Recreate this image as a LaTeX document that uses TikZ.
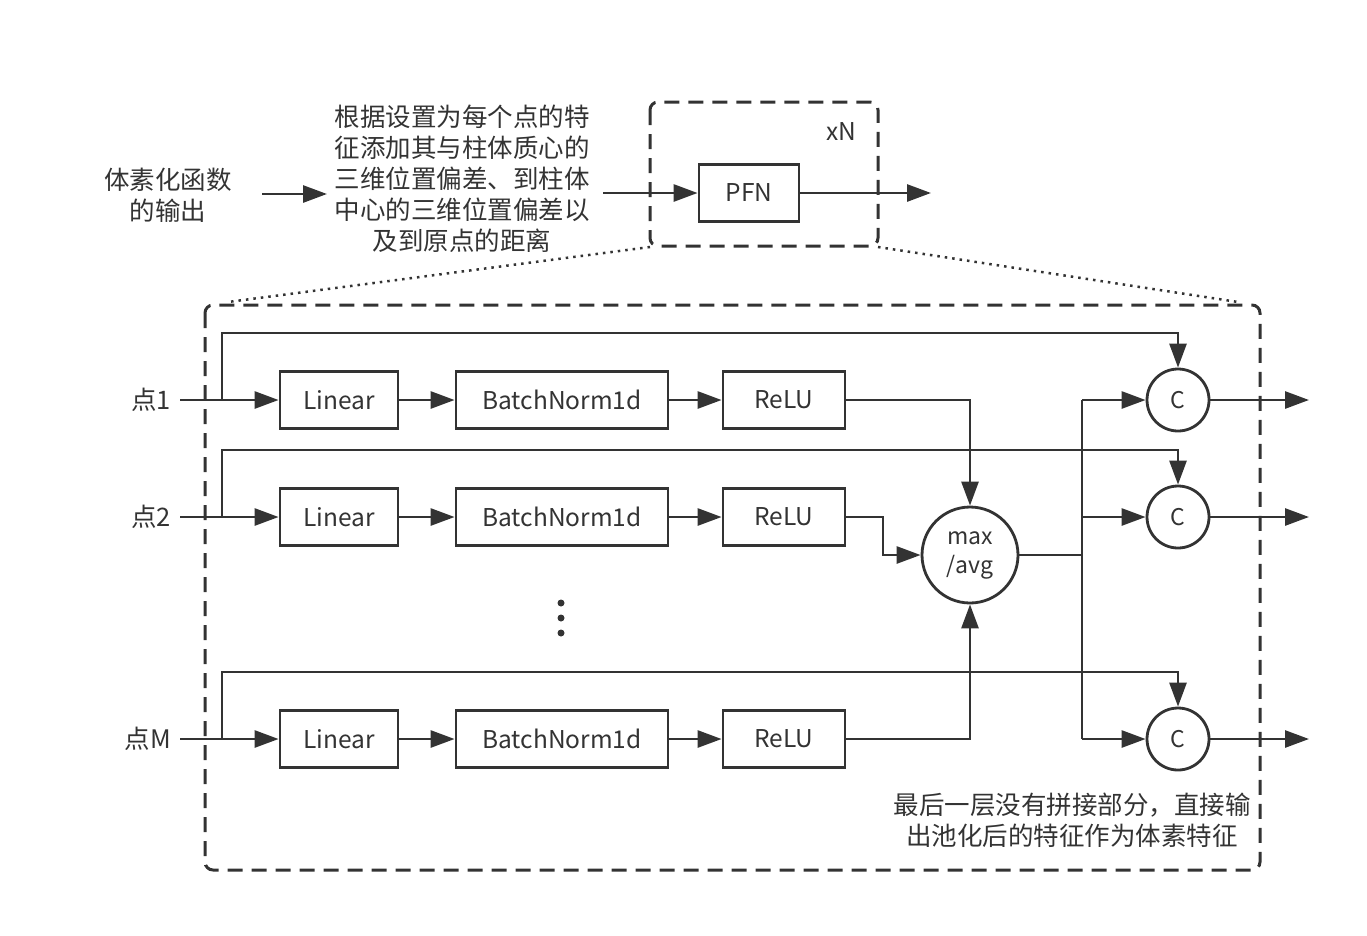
\documentclass[tikz,border=0pt]{standalone}
\usepackage{fontspec}
\setmainfont{Noto Sans CJK SC}
\usetikzlibrary{arrows.meta}
\definecolor{ink}{HTML}{333333}
\begin{document}
\begin{tikzpicture}[x=1pt,y=-1pt,
  every node/.style={text=ink,font=\fontsize{24.5}{31}\selectfont},
  cjk/.style={font=\fontsize{25.5}{31}\selectfont},
  line/.style={draw=ink,line width=2.8pt},
  arr/.style={line,-{Triangle[length=24pt,width=17pt]}},
  blk/.style={draw=ink,line width=2.8pt,minimum height=57pt,inner sep=0pt},
  circ/.style={draw=ink,line width=2.8pt,circle,inner sep=0pt},
  dashbox/.style={draw=ink,line width=3pt,dash pattern=on 15pt off 9pt,rounded corners=8pt},
  dotl/.style={draw=ink,line width=2.5pt,dash pattern=on 2.5pt off 5pt}]
\useasboundingbox (0,0) rectangle (1367,935);
% top row
\node[cjk,align=center] (in) at (168,195) {体素化函数\\的输出};
\node[cjk,align=center] (desc) at (462,179) {根据设置为每个点的特\\征添加其与柱体质心的\\三维位置偏差、到柱体\\中心的三维位置偏差以\\及到原点的距离};
\coordinate (a1s) at (262,194);
\coordinate (a1e) at (327,194);
\draw[arr] (a1s) -- (a1e);
\node[blk,minimum width=100pt] (pfn) at (749,193) {PFN};
\coordinate (a2s) at (603,193);
\draw[arr] (a2s) -- (pfn.west);
\coordinate (a3e) at (931,193);
\draw[arr] (pfn.east) -- (a3e);
\coordinate (sb1) at (650,102);
\coordinate (sb2) at (878,246);
\draw[dashbox] (sb1) rectangle (sb2);
\node (xn) at (841,132) {xN};
% big box
\coordinate (bb1) at (205,305);
\coordinate (bb2) at (1260,870);
\coordinate (dl1) at (228,302);
\coordinate (dl2) at (1238,302);
\draw[dotl] (650,247) -- (dl1);
\draw[dotl] (878,247) -- (dl2);
\draw[dashbox] (bb1) rectangle (bb2);
% rows
\foreach \r/\y/\lab/\top in {1/400/点1/333, 2/517/点2/450, 3/739/点M/672}{
  \node[cjk,anchor=east,inner sep=0pt] (p\r) at (171,\y) {\lab};
  \node[blk,minimum width=118pt] (lin\r) at (339,\y) {Linear};
  \node[blk,minimum width=212pt] (bn\r) at (562,\y) {BatchNorm1d};
  \node[blk,minimum width=122pt] (re\r) at (784,\y) {ReLU};
  \node[circ,minimum size=62pt,font=\fontsize{23}{24}\selectfont] (c\r) at (1178,\y) {C};
  \coordinate (s\r) at (180,\y);
  \coordinate (b\r) at (222,\y);
  \coordinate (t\r) at (222,\top);
  \coordinate (u\r) at (1178,\top);
  \coordinate (o\r) at (1309,\y);
  \coordinate (k\r) at (1082,\y);
  \draw[arr] (s\r) -- (lin\r.west);
  \draw[arr] (lin\r) -- (bn\r);
  \draw[arr] (bn\r) -- (re\r);
  \draw[arr] (b\r) -- (t\r) -- (u\r) -- (c\r.north);
  \draw[arr] (c\r.east) -- (o\r);
}
% pooling
\node[circ,minimum size=96pt,align=center,font=\fontsize{23}{29}\selectfont] (mx) at (970,555) {max\\/avg};
\draw[arr] (re1.east) -| (mx.north);
\draw[arr] (re3.east) -| (mx.south);
\coordinate (r2a) at (883,517);
\coordinate (r2b) at (883,555);
\draw[arr] (re2.east) -- (r2a) -- (r2b) -- (mx.west);
\coordinate (jn) at (1082,555);
\draw[line] (mx.east) -- (jn);
\draw[line] (k1) -- (k3);
\draw[arr] (k1) -- (c1.west);
\draw[arr] (k2) -- (c2.west);
\draw[arr] (k3) -- (c3.west);
% dots
\foreach \d in {603,618,633}{\fill[ink] (561,\d) circle (3.5pt);}
\node[cjk,align=center] (note) at (1072,820) {最后一层没有拼接部分，直接输\\出池化后的特征作为体素特征};
\end{tikzpicture}
\end{document}
